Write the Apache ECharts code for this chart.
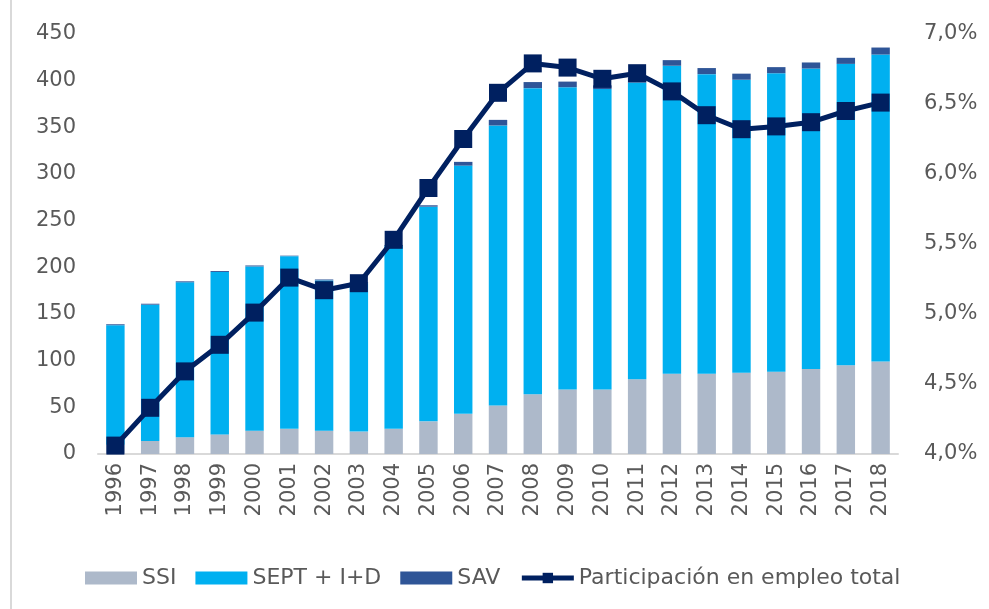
<!DOCTYPE html>
<html>
<head>
<meta charset="utf-8">
<script src="https://cdn.jsdelivr.net/npm/echarts@6/dist/echarts.min.js"></script>
<style>
  html, body { margin: 0; padding: 0; background: #fff; }
  #chart { width: 989px; height: 609px; }
</style>
</head>
<body>
<div id="chart"></div>
<script>
// datos
const years = ['1996', '1997', '1998', '1999', '2000', '2001', '2002', '2003', '2004', '2005', '2006', '2007',
  '2008', '2009', '2010', '2011', '2012', '2013', '2014', '2015', '2016', '2017', '2018']
const ssi = [10, 14, 18, 21, 25, 27, 25, 24, 27, 35, 43, 52, 64, 69, 69, 80, 86, 86, 87, 88, 91, 95, 99]
const sept = [128, 146, 166, 174, 176, 185, 161, 159, 196, 230, 266, 300, 328, 324, 322, 318, 330, 321, 314, 320, 322, 323, 329]
const sav = [1, 1, 1, 1, 1, 0.5, 1, 1, 1, 1.5, 4, 6, 6.5, 6, 4, 5, 6, 6.5, 6.5, 6.5, 6.5, 6.5, 7.5]
const participacion = [4.06, 4.33, 4.59, 4.78, 5.01, 5.26, 5.17, 5.22, 5.53, 5.90, 6.25, 6.58,
  6.79, 6.76, 6.68, 6.72, 6.59, 6.42, 6.32, 6.34, 6.37, 6.45, 6.51]

const font = 'DejaVu Sans'
const grey = '#595959'
const lineColor = '#002060'

const chart = echarts.init(document.getElementById('chart'))

const barSeries = (name, data, color) => ({
  name,
  type: 'bar',
  stack: 'total',
  data,
  barWidth: '53%',
  itemStyle: { color },
  emphasis: { disabled: true }
})

chart.setOption({
  animation: false,
  textStyle: { fontFamily: font },
  grid: { left: 98, right: 91, top: 34, bottom: 155 },
  legend: {
    left: 80,
    top: 562,
    itemWidth: 52,
    itemHeight: 13,
    itemGap: 19,
    textStyle: { fontFamily: font, fontSize: 22, color: grey },
    data: [
      { name: 'SSI', icon: 'rect' },
      { name: 'SEPT + I+D', icon: 'rect' },
      { name: 'SAV', icon: 'rect' },
      { name: 'Participación en empleo total', lineStyle: { width: 5, color: lineColor } }
    ]
  },
  xAxis: {
    type: 'category',
    data: years,
    axisLine: { lineStyle: { color: '#d9d9d9', width: 2 } },
    axisTick: { show: false },
    axisLabel: { rotate: 90, fontSize: 21, color: grey, margin: 9, interval: 0 }
  },
  yAxis: [
    {
      type: 'value',
      min: 0,
      max: 450,
      interval: 50,
      splitLine: { show: false },
      axisLine: { show: false },
      axisLabel: { fontSize: 21, color: grey, margin: 22 }
    },
    {
      type: 'value',
      min: 4,
      max: 7,
      interval: 0.5,
      position: 'right',
      splitLine: { show: false },
      axisLine: { show: false },
      axisLabel: {
        fontSize: 21,
        color: grey,
        margin: 26,
        formatter: v => v.toFixed(1).replace('.', ',') + '%'
      }
    }
  ],
  graphic: [
    { type: 'line', shape: { x1: 11, y1: 0, x2: 11, y2: 609 }, style: { stroke: '#d9d9d9', lineWidth: 2 } }
  ],
  series: [
    barSeries('SSI', ssi, '#adb9ca'),
    barSeries('SEPT + I+D', sept, '#00b0f0'),
    barSeries('SAV', sav, '#2f5597'),
    {
      name: 'Participación en empleo total',
      type: 'line',
      yAxisIndex: 1,
      data: participacion,
      symbol: 'rect',
      symbolSize: 18,
      lineStyle: { color: lineColor, width: 5 },
      itemStyle: { color: lineColor },
      emphasis: { disabled: true },
      z: 5
    }
  ]
})
</script>
</body>
</html>
